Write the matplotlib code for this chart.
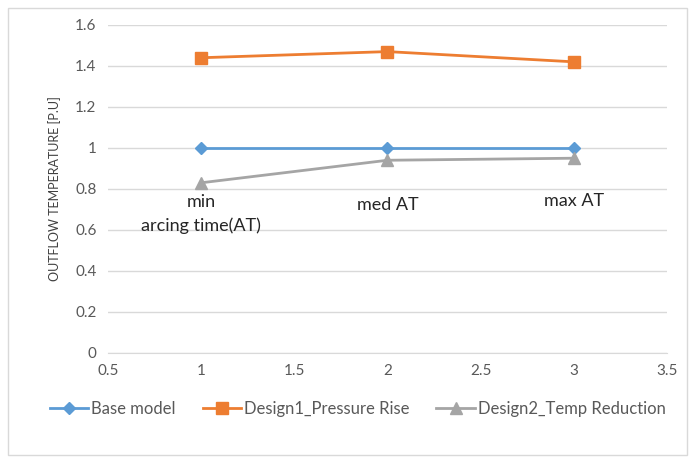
import matplotlib.pyplot as plt
from matplotlib.patches import Rectangle

plt.rcParams['font.family'] = ['Lato', 'DejaVu Sans']

x = [1, 2, 3]
base = [1.0, 1.0, 1.0]
design1 = [1.44, 1.47, 1.42]
design2 = [0.83, 0.94, 0.95]
labels = ['Base model', 'Design1_Pressure Rise', 'Design2_Temp Reduction']
notes = ['min\narcing time(AT)', 'med AT', 'max AT']
note_y = [0.68, 0.72, 0.74]

fig = plt.figure(figsize=(6.95, 4.62), dpi=100)
fig.patches.append(Rectangle((0.012, 0.015), 0.976, 0.968, transform=fig.transFigure,
                             fill=False, edgecolor='#d9d9d9', lw=1))
ax = fig.add_axes([0.155, 0.236, 0.805, 0.71])

ax.plot(x, base, color='#5B9BD5', marker='D', ms=6, lw=2, label=labels[0])
ax.plot(x, design1, color='#ED7D31', marker='s', ms=8, lw=2, label=labels[1])
ax.plot(x, design2, color='#A5A5A5', marker='^', ms=8, lw=2, label=labels[2])

for xi, yi, t in zip(x, note_y, notes):
    ax.text(xi, yi, t, ha='center', va='center', fontsize=13, color='#262626', linespacing=1.55)

ax.set_xlim(0.5, 3.5)
ax.set_ylim(0, 1.6)
ax.set_xticks([0.5, 1, 1.5, 2, 2.5, 3, 3.5])
ax.set_xticklabels(['0.5', '1', '1.5', '2', '2.5', '3', '3.5'])
ax.set_yticks([0, 0.2, 0.4, 0.6, 0.8, 1, 1.2, 1.4, 1.6])
ax.set_yticklabels(['0', '0.2', '0.4', '0.6', '0.8', '1', '1.2', '1.4', '1.6'])
ax.grid(axis='y', color='#d9d9d9', lw=1)
ax.set_axisbelow(True)
for s in ['top', 'right', 'left']:
    ax.spines[s].set_visible(False)
ax.spines['bottom'].set_color('#d9d9d9')
ax.tick_params(length=0, labelsize=11, colors='#595959', pad=8)
ax.set_ylabel('OUTFLOW TEMPERATURE [P.U]', fontsize=9, color='#404040', labelpad=10)

fig.legend(loc='center', bbox_to_anchor=(0.515, 0.115), ncol=3, frameon=False,
           fontsize=12, labelcolor='#595959', handlelength=2.3, handletextpad=0.2,
           columnspacing=1.6)

fig.savefig('out.png')
